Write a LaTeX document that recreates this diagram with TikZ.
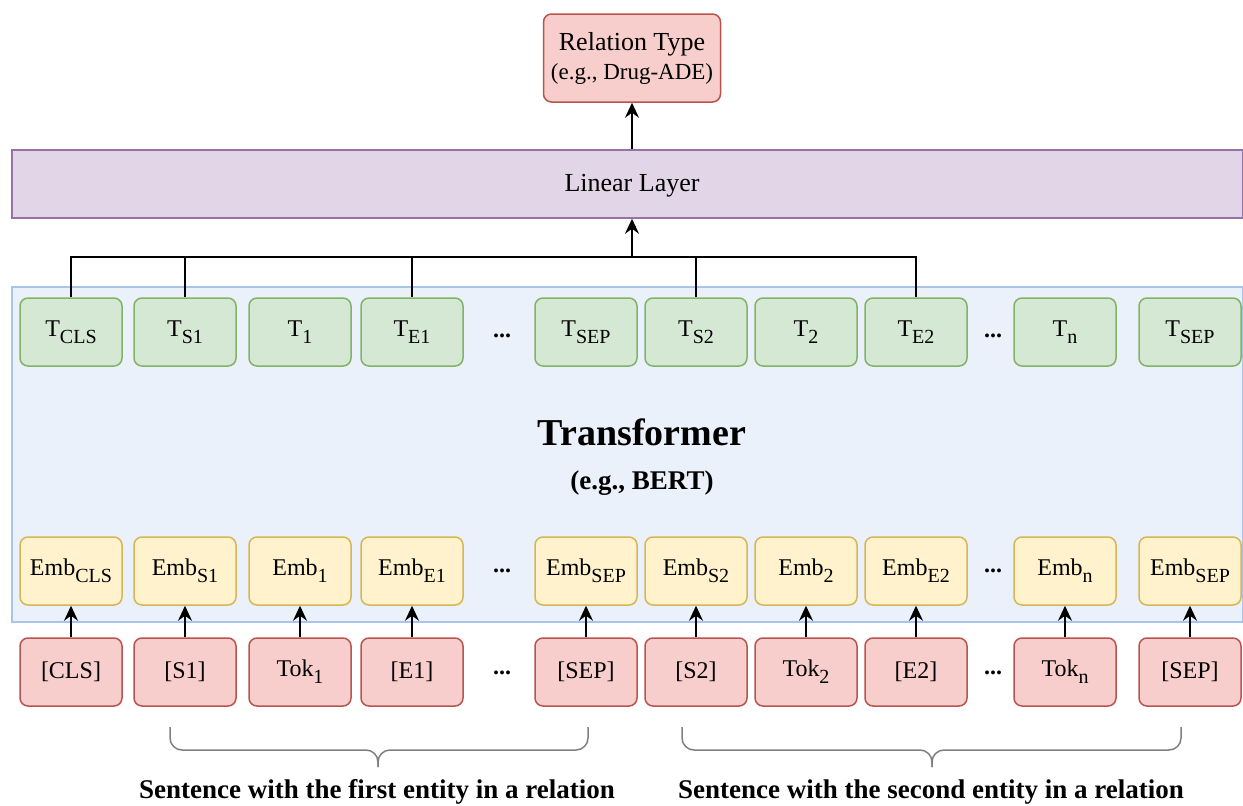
\documentclass[tikz,border=0pt]{standalone}
\usepackage{fontspec}
\setmainfont{Liberation Serif}
\usetikzlibrary{arrows.meta}
\definecolor{redfill}{HTML}{F8CECC}
\definecolor{redline}{HTML}{B85450}
\definecolor{greenfill}{HTML}{D5E8D4}
\definecolor{greenline}{HTML}{82B366}
\definecolor{yellowfill}{HTML}{FFF2CC}
\definecolor{yellowline}{HTML}{D6B656}
\definecolor{purplefill}{HTML}{E1D5E7}
\definecolor{purpleline}{HTML}{9673A6}
\definecolor{bluefill}{HTML}{EBF1FB}
\definecolor{blueline}{HTML}{A9C4EB}
\newcommand{\lowsub}[1]{\raisebox{-0.3em}{\fontsize{20}{20}\selectfont #1}}
\tikzset{
  cell/.style={rounded corners=8pt, line width=1.5pt, minimum width=102pt,
    minimum height=68pt, inner sep=0pt, font=\fontsize{24}{28}\selectfont},
  tbox/.style={cell, fill=greenfill, draw=greenline},
  embbox/.style={cell, fill=yellowfill, draw=yellowline},
  tokbox/.style={cell, fill=redfill, draw=redline},
  up/.style={line width=1.5pt, -{Stealth[length=15pt,width=14pt,inset=5pt]}},
  brace/.style={draw=gray, line width=1.5pt, rounded corners=12pt},
  lab/.style={font=\fontsize{27}{30}\selectfont\bfseries},
}
\begin{document}
\begin{tikzpicture}[x=1pt,y=-1pt]
\useasboundingbox (0,0) rectangle (1243,806);
% transformer block
\node[draw=blueline, fill=bluefill, line width=1.5pt, minimum width=1231pt,
  minimum height=335pt, inner sep=0pt] (bert) at (627.5,454.5) {};
\node[font=\fontsize{38}{40}\selectfont\bfseries] (tname) at (642,432) {Transformer};
\node[lab] (tsub) at (642,483) {(e.g., BERT)};
% linear layer and output
\node[fill=purplefill, draw=purpleline, line width=1.5pt, minimum width=1231pt,
  minimum height=68pt, font=\fontsize{26}{28}\selectfont] (lin) at (627.5,184) {};
\node[font=\fontsize{26}{28}\selectfont] (linlab) at (632,186) {Linear Layer};
\node[tokbox, minimum width=177pt, minimum height=88pt, align=center,
  font=\fontsize{26}{28}\selectfont] (rel) at (632,58)
  {Relation Type\\[1pt]{\fontsize{23}{26}\selectfont (e.g., Drug-ADE)}};
% the three rows
\foreach \x/\s/\w [count=\i] in {71/CLS/[CLS], 185/S1/[S1], 300/1/Tok\lowsub{1},
  412/E1/[E1], 586/SEP/[SEP], 696/S2/[S2], 806/2/Tok\lowsub{2}, 916/E2/[E2],
  1065/n/Tok\lowsub{n}, 1190/SEP/[SEP]} {
  \node[tbox] (t\i) at (\x,332) {T\lowsub{\s}};
  \node[embbox] (e\i) at (\x,571) {Emb\lowsub{\s}};
  \node[tokbox] (w\i) at (\x,672) {\w};
  \draw[up] (w\i) -- (e\i);
}
\foreach \x [count=\i] in {502,993} {
  \node[font=\fontsize{24}{28}\selectfont] (dt\i) at (\x,336) {\textbf{...}};
  \node[font=\fontsize{24}{28}\selectfont] (de\i) at (\x,571) {\textbf{...}};
  \node[font=\fontsize{24}{28}\selectfont] (dw\i) at (\x,673) {\textbf{...}};
}
% gather the entity outputs
\coordinate (hub) at (632,257);
\foreach \i in {1,2,4,6,8} \draw[line width=1.5pt] (t\i.north) |- (hub);
\draw[up] (hub) -- (hub |- lin.south);
\draw[up] (lin.north -| rel) -- (rel.south);
% braces under the two sentences
\draw[brace] (170,727) -- (170,750) -- (378,750) -- (378,767);
\draw[brace] (588,727) -- (588,750) -- (378,750) -- (378,767);
\draw[brace] (682,727) -- (682,750) -- (932,750) -- (932,767);
\draw[brace] (1181,727) -- (1181,750) -- (932,750) -- (932,767);
\node[lab] (s1) at (377,792) {Sentence with the first entity in a relation};
\node[lab] (s2) at (931,792) {Sentence with the second entity in a relation};
\end{tikzpicture}
\end{document}
